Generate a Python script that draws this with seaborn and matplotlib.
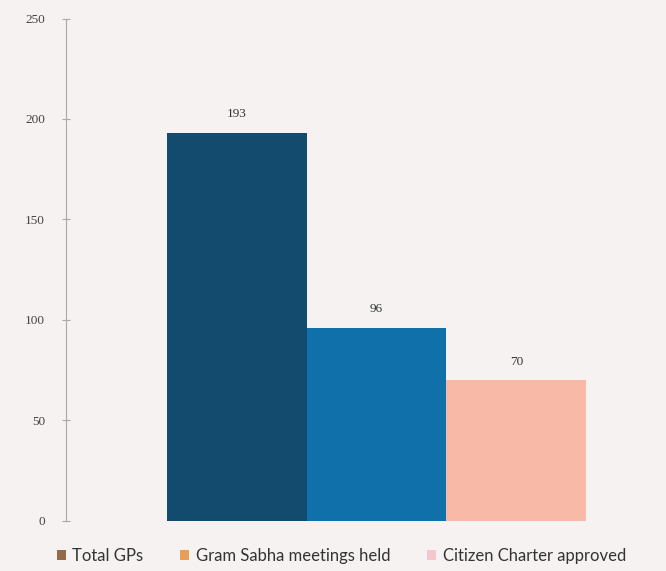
import matplotlib
matplotlib.use("Agg")
import matplotlib.pyplot as plt
from matplotlib.patches import Patch
import seaborn as sns
import pandas as pd

# Données
series = ["Total GPs", "Gram Sabha meetings held", "Citizen Charter approved"]
values = [193, 96, 70]
bar_colors = ["#134b6f", "#0f70aa", "#f8b9a6"]
legend_colors = ["#936a4a", "#e99f58", "#f3c8cd"]
yticks = [0, 50, 100, 150, 200, 250]

df = pd.DataFrame({"serie": series, "valeur": values})

sns.set_style("white")
bg = "#f6f2f1"

fig = plt.figure(figsize=(6.66, 5.71), dpi=100)
fig.patch.set_facecolor(bg)
ax = fig.add_axes([0.099, 0.0876, 0.894, 0.880])
ax.set_facecolor(bg)

sns.barplot(data=df, x="serie", y="valeur", hue="serie", order=series,
            palette=dict(zip(series, bar_colors)), width=1.0, dodge=False,
            legend=False, saturation=1, linewidth=0, edgecolor="none", ax=ax)

# étiquettes au-dessus des barres
for i, v in enumerate(values):
    ax.annotate(str(v), (i, v), xytext=(0, 13.5), textcoords="offset points",
                ha="center", va="center", fontsize=9.5,
                family="Liberation Serif", color="#333333")

ax.set_ylim(0, 250)
ax.set_xlim(-1.224, 3.038)
ax.set_yticks(yticks)
ax.set_yticklabels([str(t) for t in yticks],
                   family="Liberation Serif", fontsize=9.5, color="#444444")
ax.set_xticks([])
ax.set_xlabel("")
ax.set_ylabel("")
for s in ["top", "right", "bottom"]:
    ax.spines[s].set_visible(False)
ax.spines["left"].set_color("#a8a8a8")
ax.spines["left"].set_linewidth(0.8)
ax.tick_params(axis="y", left=True, direction="inout", length=6,
               color="#a8a8a8", width=0.8, pad=12)

handles = [Patch(facecolor=c, edgecolor="none") for c in legend_colors]
fig.legend(handles, series, loc="center left", bbox_to_anchor=(0.085, 0.026),
           ncol=3, frameon=False, handlelength=0.55, handleheight=0.55,
           handletextpad=0.4, columnspacing=2.2, borderpad=0, borderaxespad=0,
           prop={"family": "Lato", "size": 12}, labelcolor="#333333")

plt.savefig("out.png", dpi=100, facecolor=bg)
